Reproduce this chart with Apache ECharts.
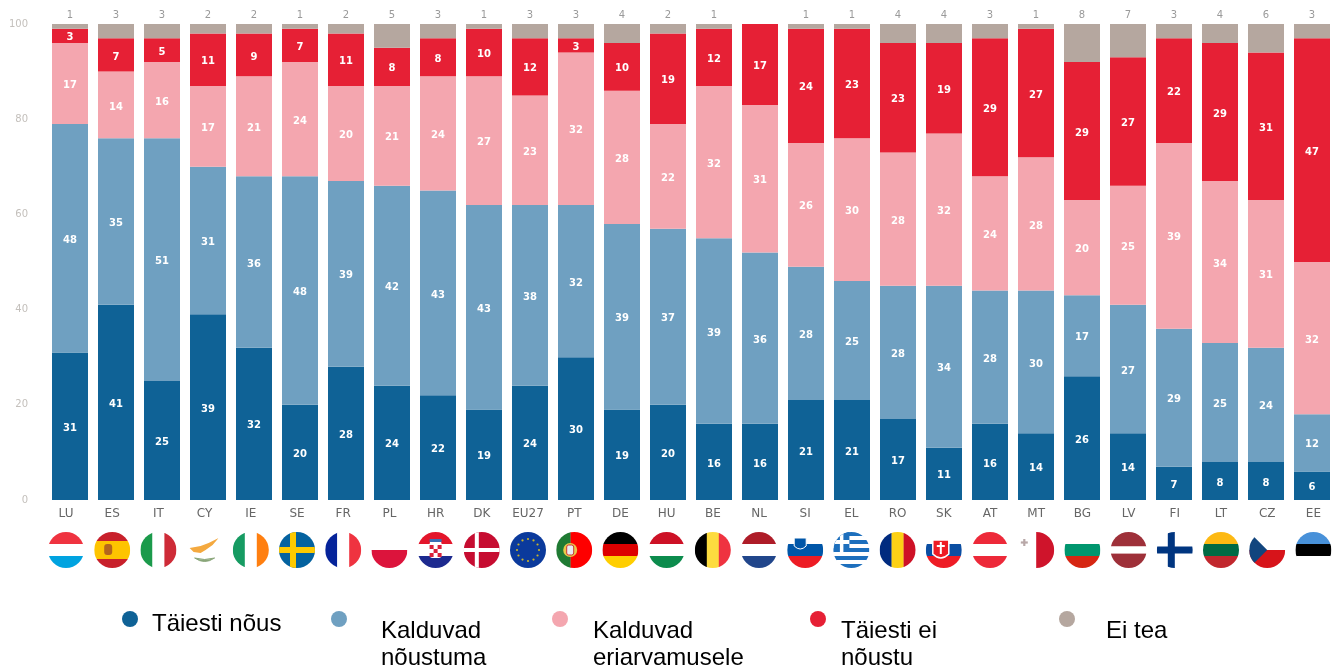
<!DOCTYPE html>
<html lang="et">
<head>
    <meta charset="UTF-8">
    <title>Eurobaromeeter</title>
    <style>
        html, body { margin: 0; padding: 0; background: #fff; overflow: hidden; }
        /* originaal on väikesest pildist suurendatud, seega kerge hägu */
        #main { width: 1338px; height: 666px; filter: blur(0.5px); }
    </style>
    <script src="https://cdn.jsdelivr.net/npm/echarts@6/dist/echarts.min.js"></script>
</head>
<body>
<div id="main"></div>
<script type="text/javascript">
    var categories = ['LU', 'ES', 'IT', 'CY', 'IE', 'SE', 'FR', 'PL', 'HR', 'DK', 'EU27', 'PT', 'DE', 'HU', 'BE', 'NL', 'SI', 'EL', 'RO', 'SK', 'AT', 'MT', 'BG', 'LV', 'FI', 'LT', 'CZ', 'EE'];
    var taiestiNous = [31, 41, 25, 39, 32, 20, 28, 24, 22, 19, 24, 30, 19, 20, 16, 16, 21, 21, 17, 11, 16, 14, 26, 14, 7, 8, 8, 6];
    var kalduvadNoustuma = [48, 35, 51, 31, 36, 48, 39, 42, 43, 43, 38, 32, 39, 37, 39, 36, 28, 25, 28, 34, 28, 30, 17, 27, 29, 25, 24, 12];
    var kalduvadEriarvamusele = [17, 14, 16, 17, 21, 24, 20, 21, 24, 27, 23, 32, 28, 22, 32, 31, 26, 30, 28, 32, 24, 28, 20, 25, 39, 34, 31, 32];
    var taiestiEiNoustu = [3, 7, 5, 11, 9, 7, 11, 8, 8, 10, 12, 3, 10, 19, 12, 17, 24, 23, 23, 19, 29, 27, 29, 27, 22, 29, 31, 47];
    var eiTea = [1, 3, 3, 2, 2, 1, 2, 5, 3, 1, 3, 3, 4, 2, 1, 0, 1, 1, 4, 4, 3, 1, 8, 7, 3, 4, 6, 3];
    var seriesNames = ['Täiesti nõus', 'Kalduvad\nnõustuma', 'Kalduvad\neriarvamusele', 'Täiesti ei\nnõustu', 'Ei tea'];
    var seriesColors = ['#0f6296', '#6fa0c1', '#f4a6af', '#e62035', '#b5a79f'];

    // lipud: triibud + vajadusel lisakujund, vaade 36x36
    function hStripes(colors, parts) {
        var total = 0, y = 0, out = '';
        parts = parts || colors.map(function () { return 1; });
        parts.forEach(function (p) { total += p; });
        colors.forEach(function (c, i) {
            var h = 36 * parts[i] / total;
            out += '<rect x="0" y="' + y + '" width="36" height="' + (h + 0.2) + '" fill="' + c + '"/>';
            y += h;
        });
        return out;
    }
    function vStripes(colors, parts) {
        var total = 0, x = 0, out = '';
        parts = parts || colors.map(function () { return 1; });
        parts.forEach(function (p) { total += p; });
        colors.forEach(function (c, i) {
            var w = 36 * parts[i] / total;
            out += '<rect x="' + x + '" y="0" width="' + (w + 0.2) + '" height="36" fill="' + c + '"/>';
            x += w;
        });
        return out;
    }
    function nordic(bg, fg, size) {
        return '<rect width="36" height="36" fill="' + bg + '"/><rect x="11" y="0" width="' + size + '" height="36" fill="' + fg + '"/><rect x="0" y="' + (18 - size / 2) + '" width="36" height="' + size + '" fill="' + fg + '"/>';
    }
    function euStars() {
        var out = '<rect width="36" height="36" fill="#0b3a9c"/>';
        for (var i = 0; i < 12; i++) {
            var a = i * Math.PI / 6;
            out += '<circle cx="' + (18 + 11 * Math.cos(a)) + '" cy="' + (18 + 11 * Math.sin(a)) + '" r="1.1" fill="#c9b52a"/>';
        }
        return out;
    }
    function greece() {
        var out = hStripes(['#1d6fbd', '#fff', '#1d6fbd', '#fff', '#1d6fbd', '#fff', '#1d6fbd', '#fff', '#1d6fbd']);
        return out + '<rect width="16" height="20" fill="#1d6fbd"/><rect x="6.5" width="3.5" height="20" fill="#fff"/><rect y="8" width="16" height="4" fill="#fff"/>';
    }
    var flagShapes = {
        LU: hStripes(['#ef3340', '#fff', '#00a3e0']),
        ES: hStripes(['#c8202b', '#fec400', '#c8202b'], [1, 2, 1]) + '<rect x="10" y="12" width="8" height="11" rx="3" fill="#b5651d"/>',
        IT: vStripes(['#1b9a4b', '#fff', '#ce2b37']),
        CY: '<rect width="36" height="36" fill="#fff"/><path d="M3 16 L14 14 L22 11 L32 6 L26 13 L19 18 L14 21 L7 20 Z" fill="#f4a93f"/><path d="M8 26 Q18 33 28 26 Q18 29 8 26 Z" fill="#8aa67a" stroke="#8aa67a"/>',
        IE: vStripes(['#169b62', '#fff', '#ff7f10']),
        SE: nordic('#04629f', '#fdc900', 6),
        FR: vStripes(['#05239a', '#fff', '#ef3340']),
        PL: hStripes(['#fff', '#dc143c']),
        HR: hStripes(['#e3162b', '#fff', '#1d2a8f']) + '<rect x="12" y="9" width="12" height="17" rx="3" fill="#fff"/><rect x="12" y="13" width="4" height="4" fill="#d9203a"/><rect x="20" y="13" width="4" height="4" fill="#d9203a"/><rect x="16" y="17" width="4" height="4" fill="#d9203a"/><rect x="12" y="21" width="4" height="4" fill="#d9203a"/><rect x="20" y="21" width="4" height="4" fill="#d9203a"/><rect x="12" y="7" width="12" height="3" fill="#3a6fb5"/>',
        DK: nordic('#c60c30', '#fff', 4),
        EU27: euStars(),
        PT: vStripes(['#1f7a33', '#fe0000'], [2, 3]) + '<circle cx="14" cy="18" r="7" fill="#e8c94a"/><rect x="10.5" y="13" width="7" height="10" rx="2" fill="#e9ecf4" stroke="#c33" stroke-width="1"/>',
        DE: hStripes(['#000', '#dd0000', '#ffce00']),
        HU: hStripes(['#cd1126', '#fff', '#0c8c4d']),
        BE: vStripes(['#000', '#fddc3f', '#ef3340']),
        NL: hStripes(['#ae1c28', '#fff', '#21468b']),
        SI: hStripes(['#fff', '#0056a8', '#ed1c24']) + '<path d="M7 6 L19 6 L19 14 Q13 20 7 14 Z" fill="#0056a8" stroke="#fff"/>',
        EL: greece(),
        RO: vStripes(['#002b7f', '#fcd116', '#ce1126']),
        SK: hStripes(['#fff', '#0b4ea2', '#ee1c25']) + '<path d="M7 8 L23 8 L23 22 Q15 30 7 22 Z" fill="#ee1c25" stroke="#fff" stroke-width="1.5"/><rect x="14" y="10" width="2" height="12" fill="#fff"/><rect x="11" y="13" width="8" height="2" fill="#fff"/>',
        AT: hStripes(['#ed2939', '#fff', '#ed2939']),
        MT: vStripes(['#fff', '#cf142b']) + '<rect x="5" y="7" width="2.2" height="7" fill="#b8a8a8"/><rect x="2.6" y="9.4" width="7" height="2.2" fill="#b8a8a8"/>',
        BG: hStripes(['#fff', '#00966e', '#d62612']),
        LV: hStripes(['#9e3039', '#fff', '#9e3039'], [2, 1, 2]),
        FI: nordic('#fff', '#003580', 7),
        LT: hStripes(['#fdb913', '#006a44', '#c1272d']),
        CZ: hStripes(['#fff', '#d7141a']) + '<path d="M0 0 L18 18 L0 36 Z" fill="#11457e"/>',
        EE: hStripes(['#4891d9', '#000', '#fff'])
    };
    function flagUrl(code) {
        var svg = '<svg xmlns="http://www.w3.org/2000/svg" width="36" height="36" viewBox="0 0 36 36">' +
            '<defs><clipPath id="c"><circle cx="18" cy="18" r="18"/></clipPath></defs>' +
            '<g clip-path="url(#c)">' + flagShapes[code] + '</g></svg>';
        return 'data:image/svg+xml;charset=utf-8,' + encodeURIComponent(svg);
    }

    var allValues = [taiestiNous, kalduvadNoustuma, kalduvadEriarvamusele, taiestiEiNoustu, eiTea];
    var chartFont = '"DejaVu Sans", sans-serif';

    var barSeries = allValues.map(function (values, i) {
        var isLast = i === allValues.length - 1;
        return {
            name: seriesNames[i],
            type: 'bar',
            stack: 'total',
            barWidth: 36,
            xAxisIndex: 0,
            yAxisIndex: 0,
            itemStyle: { color: seriesColors[i] },
            label: {
                show: true,
                position: isLast ? 'top' : 'inside',
                distance: 4,
                offset: isLast ? [0, 0] : [0, 2],
                color: isLast ? '#9a9a9a' : '#fff',
                fontFamily: chartFont,
                fontSize: 10,
                fontWeight: isLast ? 'normal' : 'bold',
                formatter: function (p) { return p.value ? String(p.value) : ''; }
            },
            data: values
        };
    });

    // lipud teljesiltide all
    var flagSeries = {
        type: 'custom',
        xAxisIndex: 1,
        yAxisIndex: 1,
        silent: true,
        renderItem: function (params, api) {
            var pos = api.coord([api.value(0), 0]);
            return {
                type: 'image',
                style: {
                    image: flagUrl(categories[api.value(0)]),
                    x: pos[0] - 18,
                    y: pos[1] + 32,
                    width: 36,
                    height: 36
                }
            };
        },
        encode: { x: 0, y: 1 },
        data: categories.map(function (c, i) { return [i, 0]; })
    };

    // legend on kahe reaga ja nihkes, seepärast graphic
    var legendX = [130, 339, 560, 818, 1067];
    var legendTextX = [152, 381, 593, 841, 1106];
    var legendTextY = [611, 618, 618, 618, 618];
    var legendGraphic = [];
    seriesNames.forEach(function (name, i) {
        legendGraphic.push({
            type: 'circle',
            shape: { cx: legendX[i], cy: 619, r: 8 },
            style: { fill: seriesColors[i] }
        });
        legendGraphic.push({
            type: 'text',
            x: legendTextX[i],
            y: legendTextY[i],
            style: {
                text: name,
                fill: '#000',
                font: '24px "Liberation Sans", Arial, sans-serif',
                lineHeight: 27
            }
        });
    });

    var chart = echarts.init(document.getElementById('main'));
    chart.setOption({
        animation: false,
        backgroundColor: '#fff',
        grid: [
            { left: 47, top: 24, width: 1288, height: 476 },
            { left: 42.9, top: 24, width: 1293.6, height: 476 }
        ],
        xAxis: [
            {
                type: 'category',
                gridIndex: 0,
                data: categories,
                axisLine: { show: false },
                axisTick: { show: false },
                axisLabel: { show: false }
            },
            {
                type: 'category',
                gridIndex: 1,
                data: categories,
                axisLine: { show: false },
                axisTick: { show: false },
                axisLabel: {
                    interval: 0,
                    margin: 8,
                    color: '#666',
                    fontFamily: chartFont,
                    fontSize: 12
                }
            }
        ],
        yAxis: [
            {
                type: 'value',
                gridIndex: 0,
                min: 0,
                max: 100,
                interval: 20,
                axisLine: { show: false },
                axisTick: { show: false },
                splitLine: { show: false },
                axisLabel: {
                    margin: 19,
                    color: '#c4c0bc',
                    fontFamily: chartFont,
                    fontSize: 10
                }
            },
            {
                type: 'value',
                gridIndex: 1,
                min: 0,
                max: 100,
                show: false
            }
        ],
        graphic: legendGraphic,
        series: barSeries.concat([flagSeries])
    });
</script>
</body>
</html>
